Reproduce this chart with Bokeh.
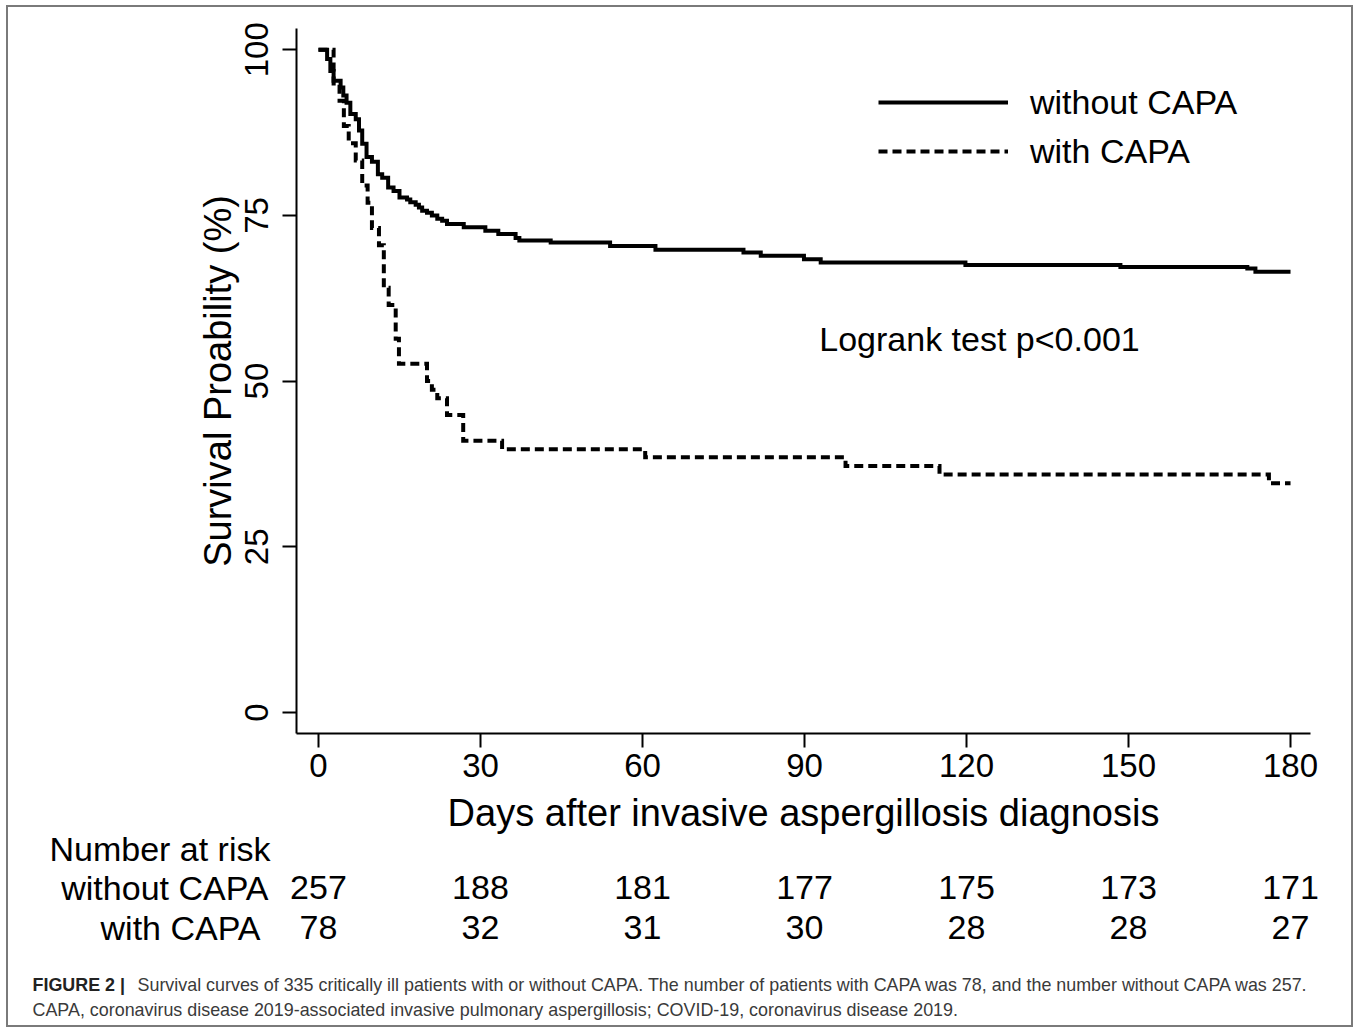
from bokeh.plotting import figure
from bokeh.layouts import column
from bokeh.models import Label, Legend, LegendItem, FixedTicker, Range1d
from bokeh.core.properties import value
from bokeh.embed import file_html
from bokeh.resources import INLINE

# ---------------- data ----------------
days_without = [0, 1.6, 2.2, 2.8, 4.1, 4.6, 5.2, 5.9, 6.9, 7.5,
                8.1, 8.9, 9.9, 11.0, 11.8, 12.9, 13.9, 15.0, 16.4, 17.0,
                18.0, 18.6, 19.2, 20.1, 21.0, 22.0, 22.9, 23.8, 26.9, 30.9,
                33.3, 36.5, 37.2, 43.0, 54.0, 62.4, 78.7, 81.9, 89.9, 93.0,
                119.8, 148.5, 172.0, 173.5, 180]
surv_without = [100, 98.6, 96.8, 95.3, 94.3, 93.1, 92.0, 90.3, 89.5, 87.8,
                85.8, 83.8, 83.1, 81.2, 80.7, 79.2, 78.7, 77.7, 77.4, 77.0,
                76.6, 76.2, 75.7, 75.4, 75.0, 74.5, 74.2, 73.7, 73.2, 72.7,
                72.2, 71.6, 71.2, 70.9, 70.4, 69.8, 69.4, 68.9, 68.4, 67.9,
                67.5, 67.2, 67.0, 66.5, 66.5]

days_with = [0, 2.8, 3.9, 4.7, 5.6, 6.9, 8.1, 9.1, 9.9, 11.2,
             12.1, 13.0, 14.3, 14.9, 20.1, 21.0, 22.0, 23.8, 26.8, 34.0,
             60.5, 97.6, 115.0, 176.0, 180]
surv_with = [100, 94.9, 92.3, 88.5, 85.9, 83.3, 79.5, 76.9, 73.1, 70.5,
             64.1, 61.5, 56.4, 52.6, 50.0, 48.7, 47.4, 44.9, 41.0, 39.7,
             38.5, 37.2, 35.9, 34.6, 34.6]

risk_days = [0, 30, 60, 90, 120, 150, 180]
risk_without = [257, 188, 181, 177, 175, 173, 171]
risk_with = [78, 32, 31, 30, 28, 28, 27]

x_ticks = [0, 30, 60, 90, 120, 150, 180]
y_ticks = [0, 25, 50, 75, 100]

series_names = ["without CAPA", "with CAPA"]
x_title = "Days after invasive aspergillosis diagnosis"
y_title = "Survival Proability (%)"
logrank_text = "Logrank test p<0.001"
risk_title = "Number at risk"
caption_bold = "FIGURE 2 |"
caption_line1 = ("Survival curves of 335 critically ill patients with or without CAPA. "
                 "The number of patients with CAPA was 78, and the number without CAPA was 257.")
caption_line2 = ("CAPA, coronavirus disease 2019-associated invasive pulmonary aspergillosis; "
                 "COVID-19, coronavirus disease 2019.")

# ---------------- layout ----------------
FONT = "Liberation Sans"
OX, OY = 8, 7                      # page px of content top-left (margin + border)
WC = 1343                          # content width
HA = 781                           # chart figure height
HB = 1018 - HA                     # title/table/caption figure height
FL, FT, FW, FH = 296 - OX, 28 - OY, 1014, 705
X0, X1 = -4.07, 183.7
Y0, Y1 = -3.17, 103.2


def day_at(px):
    return X0 + (px - OX - FL) / FW * (X1 - X0)


def surv_at(py):
    return Y1 - (py - OY - FT) / FH * (Y1 - Y0)


p = figure(width=WC, height=HA,
           x_range=Range1d(X0, X1), y_range=Range1d(Y0, Y1),
           output_backend="svg", toolbar_location=None,
           min_border_left=FL, min_border_top=FT,
           min_border_right=WC - FL - FW, min_border_bottom=HA - FT - FH)
p.outline_line_color = None
p.xgrid.visible = False
p.ygrid.visible = False

r1 = p.step(days_without, surv_without, mode="after", line_color="black",
            line_width=4, line_join="miter")
r2 = p.step(days_with, surv_with, mode="after", line_color="black",
            line_width=4, line_dash="9 5", line_join="miter")

for ax in (p.xaxis[0], p.yaxis[0]):
    ax.axis_line_width = 2
    ax.axis_line_color = "black"
    ax.major_tick_line_width = 2
    ax.major_tick_line_color = "black"
    ax.major_tick_out = 14
    ax.major_tick_in = 0
    ax.minor_tick_line_color = None
    ax.major_label_text_font = FONT
    ax.major_label_text_font_size = "33px"
    ax.major_label_text_color = "black"
    ax.axis_label_text_font = FONT
    ax.axis_label_text_font_size = "38px"
    ax.axis_label_text_font_style = "normal"
    ax.axis_label_text_color = "black"

p.xaxis.ticker = FixedTicker(ticks=x_ticks)
p.yaxis.ticker = FixedTicker(ticks=y_ticks)
p.yaxis.axis_label = y_title
p.xaxis.major_label_standoff = 6
p.yaxis.major_label_orientation = "vertical"
p.yaxis.major_label_standoff = 14
p.yaxis.axis_label_standoff = 4

legend = Legend(items=[LegendItem(label=series_names[0], renderers=[r1]),
                       LegendItem(label=series_names[1], renderers=[r2])],
                location=(878 - 296, FH - (82 - 28) - 89),
                glyph_width=130, glyph_height=40, label_height=40,
                label_standoff=22, spacing=9, padding=0, margin=0,
                border_line_color=None, background_fill_alpha=0,
                label_text_font=FONT, label_text_font_size="34px",
                label_text_color="black")
p.add_layout(legend)

p.add_layout(Label(x=day_at(979), y=surv_at(338), text=logrank_text,
                   text_font=FONT, text_font_size="34px", text_color="black",
                   text_align="center", text_baseline="middle"))

# ---------------- x title, number-at-risk table and caption ----------------
yb_top = OY + HA
q = figure(width=WC, height=HB,
           x_range=Range1d(day_at(OX), day_at(OX + WC)),
           y_range=Range1d(yb_top + HB, yb_top),
           output_backend="svg", toolbar_location=None,
           x_axis_location=None, y_axis_location=None,
           min_border=0, min_border_left=0, min_border_right=0,
           min_border_top=0, min_border_bottom=0)
q.outline_line_color = None
q.xgrid.visible = False
q.ygrid.visible = False

for fig in (p, q):
    if "frame_align" in fig.properties():
        fig.frame_align = False

q.text(x=[(X0 + X1) / 2], y=[812], text=[x_title],
       text_font=value(FONT), text_font_size=value("38px"), text_color="black",
       text_align="center", text_baseline="middle")

q.text(x=[day_at(270), day_at(268), day_at(260)], y=[848, 887, 927],
       text=[risk_title] + series_names,
       text_font=value(FONT), text_font_size=value("34px"), text_color="black",
       text_align="right", text_baseline="middle")
q.text(x=risk_days, y=[887] * len(risk_days), text=[str(v) for v in risk_without],
       text_font=value(FONT), text_font_size=value("34px"), text_color="black",
       text_align="center", text_baseline="middle")
q.text(x=risk_days, y=[927] * len(risk_days), text=[str(v) for v in risk_with],
       text_font=value(FONT), text_font_size=value("34px"), text_color="black",
       text_align="center", text_baseline="middle")

q.text(x=[day_at(32)], y=[984], text=[caption_bold],
       text_font=value(FONT), text_font_size=value("17.9px"), text_font_style="bold",
       text_color="#222222", text_align="left", text_baseline="middle")
q.text(x=[day_at(137), day_at(32)], y=[984, 1009], text=[caption_line1, caption_line2],
       text_font=value(FONT), text_font_size=value("17.9px"),
       text_color="#3a3a3a", text_align="left", text_baseline="middle")

layout = column(p, q, width=WC + 4, height=HA + HB + 4, spacing=0,
                styles={"border": "2px solid #7a7a7a", "margin-left": "6px",
                        "margin-top": "5px"})

open("out.html", "w").write(file_html(layout, INLINE))
